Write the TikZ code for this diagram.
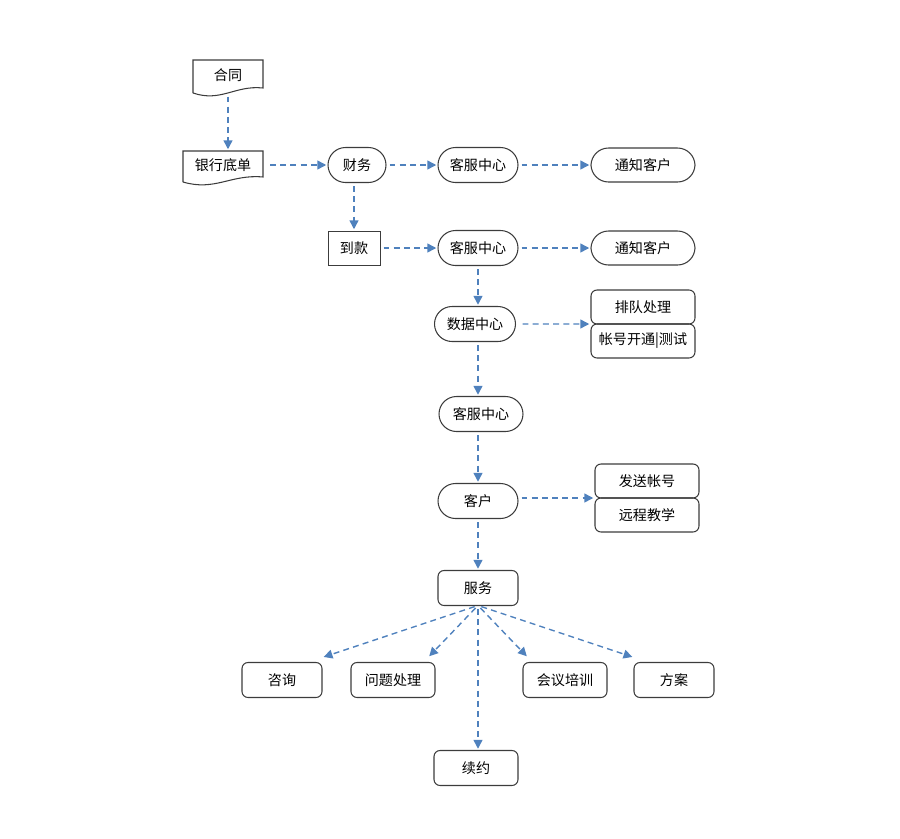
\documentclass[tikz,border=0pt]{standalone}
\usepackage{fontspec}
\setmainfont{Noto Sans CJK SC}
\usetikzlibrary{arrows.meta, positioning, calc}
\definecolor{flowblue}{RGB}{79,129,189}
\definecolor{edgegray}{RGB}{60,60,60}
\tikzstyle{pill} = [rectangle, rounded corners=0.35cm, draw=edgegray, line width=0.6pt, minimum
height=0.7cm, minimum width=1.6cm, inner sep=0pt, outer sep=0pt, font=\fontsize{8}{10}\selectfont]
\tikzstyle{box} = [rectangle, rounded corners=0.12cm, draw=edgegray, line width=0.6pt, minimum
height=0.68cm, minimum width=1.6cm, inner sep=0pt, outer sep=0pt, font=\fontsize{8}{10}\selectfont]
\tikzstyle{doc} = [rectangle, minimum height=0.6cm, minimum width=1.4cm, inner sep=0pt, outer
sep=0pt, font=\fontsize{8}{10}\selectfont]
\tikzstyle{arrow} = [flowblue, line width=0.8pt, dash pattern=on 3.4pt off 2.4pt,
-{Triangle[length=5pt,width=5pt]}, shorten <=2pt, shorten >=1pt]

\begin{document}
\begin{tikzpicture}[x=0.02cm, y=-0.02cm]
  \useasboundingbox (0,0) rectangle (900,839);

  \node (ht) [doc] at (228,75) {合同};
  \node (yhdd) [doc, minimum width=1.6cm, minimum height=0.56cm] at (223,165) {银行底单};
  \node (cw) [pill, minimum width=1.16cm] at (357,165) {财务};
  \node (kf1) [pill] at (478,165) {客服中心};
  \node (tz1) [pill, minimum width=2.08cm, minimum height=0.68cm] at (643,165) {通知客户};
  \node (dk) [box, rounded corners=0pt, line width=0.5pt, minimum width=1.04cm] at (354,248) {到款};
  \node (kf2) [pill] at (478,248) {客服中心};
  \node (tz2) [pill, minimum width=2.08cm, minimum height=0.68cm] at (643,248) {通知客户};
  \node (sj) [pill, minimum width=1.62cm] at (475,324) {数据中心};
  \node (pd) [box, minimum width=2.08cm] at (643,307) {排队处理};
  \node (zh) [box, minimum width=2.08cm, below=0pt of pd] {帐号开通|测试};
  \node (kf3) [pill, minimum width=1.68cm] at (481,414) {客服中心};
  \node (kh) [pill] at (478,501) {客户};
  \node (fs) [box, minimum width=2.08cm] at (647,481) {发送帐号};
  \node (yc) [box, minimum width=2.08cm, below=0pt of fs] {远程教学};
  \node (fw) [box, minimum height=0.7cm] at (478,588) {服务};
  \node (zx) [box, minimum height=0.7cm] at (282,680) {咨询};
  \node (wt) [box, minimum height=0.7cm, minimum width=1.68cm] at (393,680) {问题处理};
  \node (hy) [box, minimum height=0.7cm, minimum width=1.68cm] at (565,680) {会议培训};
  \node (fa) [box, minimum height=0.7cm] at (674,680) {方案};
  \node (xy) [box, minimum height=0.7cm, minimum width=1.68cm] at (476,768) {续约};

  \draw[edgegray, line width=0.6pt] ($(ht.south west)+(0,-0.06cm)$) -- (ht.north west) -- (ht.north east)
  -- ($(ht.south east)+(0,0.04cm)$) .. controls ($(ht.south west)!0.6!(ht.south east)+(0,0.1cm)$) and
  ($(ht.south west)!0.4!(ht.south east)+(0,-0.25cm)$) .. ($(ht.south west)+(0,-0.06cm)$);
  \draw[edgegray, line width=0.6pt] ($(yhdd.south west)+(0,-0.06cm)$) -- (yhdd.north west) -- (yhdd.north east)
  -- ($(yhdd.south east)+(0,0.04cm)$) .. controls ($(yhdd.south west)!0.6!(yhdd.south east)+(0,0.1cm)$) and
  ($(yhdd.south west)!0.4!(yhdd.south east)+(0,-0.25cm)$) .. ($(yhdd.south west)+(0,-0.06cm)$);

  \draw[arrow] ($(ht.south)+(0,-0.06cm)$) -- (ht.south |- yhdd.north);
  \draw[arrow, shorten <=4pt] (yhdd.east) -- (cw.west);
  \draw[arrow] (cw.east) -- (kf1.west);
  \draw[arrow] (kf1.east) -- (tz1.west);
  \draw[arrow] (cw.south -| dk.north) -- (dk.north);
  \draw[arrow] (dk.east) -- (kf2.west);
  \draw[arrow] (kf2.east) -- (tz2.west);
  \draw[arrow] (kf2.south) -- (kf2.south |- sj.north);
  \draw[arrow, shorten <=4pt] (sj.east) -- (pd.south west);
  \draw[arrow] (kf2.south |- sj.south) -- (kf2.south |- kf3.north);
  \draw[arrow] (kf2.south |- kf3.south) -- (kh.north);
  \draw[arrow] (kh.east |- fs.south west) -- (fs.south west);
  \draw[arrow] (kh.south) -- (fw.north);

  \draw[arrow] (fw.south) -- ($(zx.north east)+(0,0.1cm)$);
  \draw[arrow] (fw.south) -- ($(wt.north east)+(-0.14cm,0.1cm)$);
  \draw[arrow] (fw.south) -- (fw.south |- xy.north);
  \draw[arrow] (fw.south) -- ($(hy.north west)+(0.1cm,0.1cm)$);
  \draw[arrow] (fw.south) -- ($(fa.north west)+(0,0.1cm)$);
\end{tikzpicture}
\end{document}
